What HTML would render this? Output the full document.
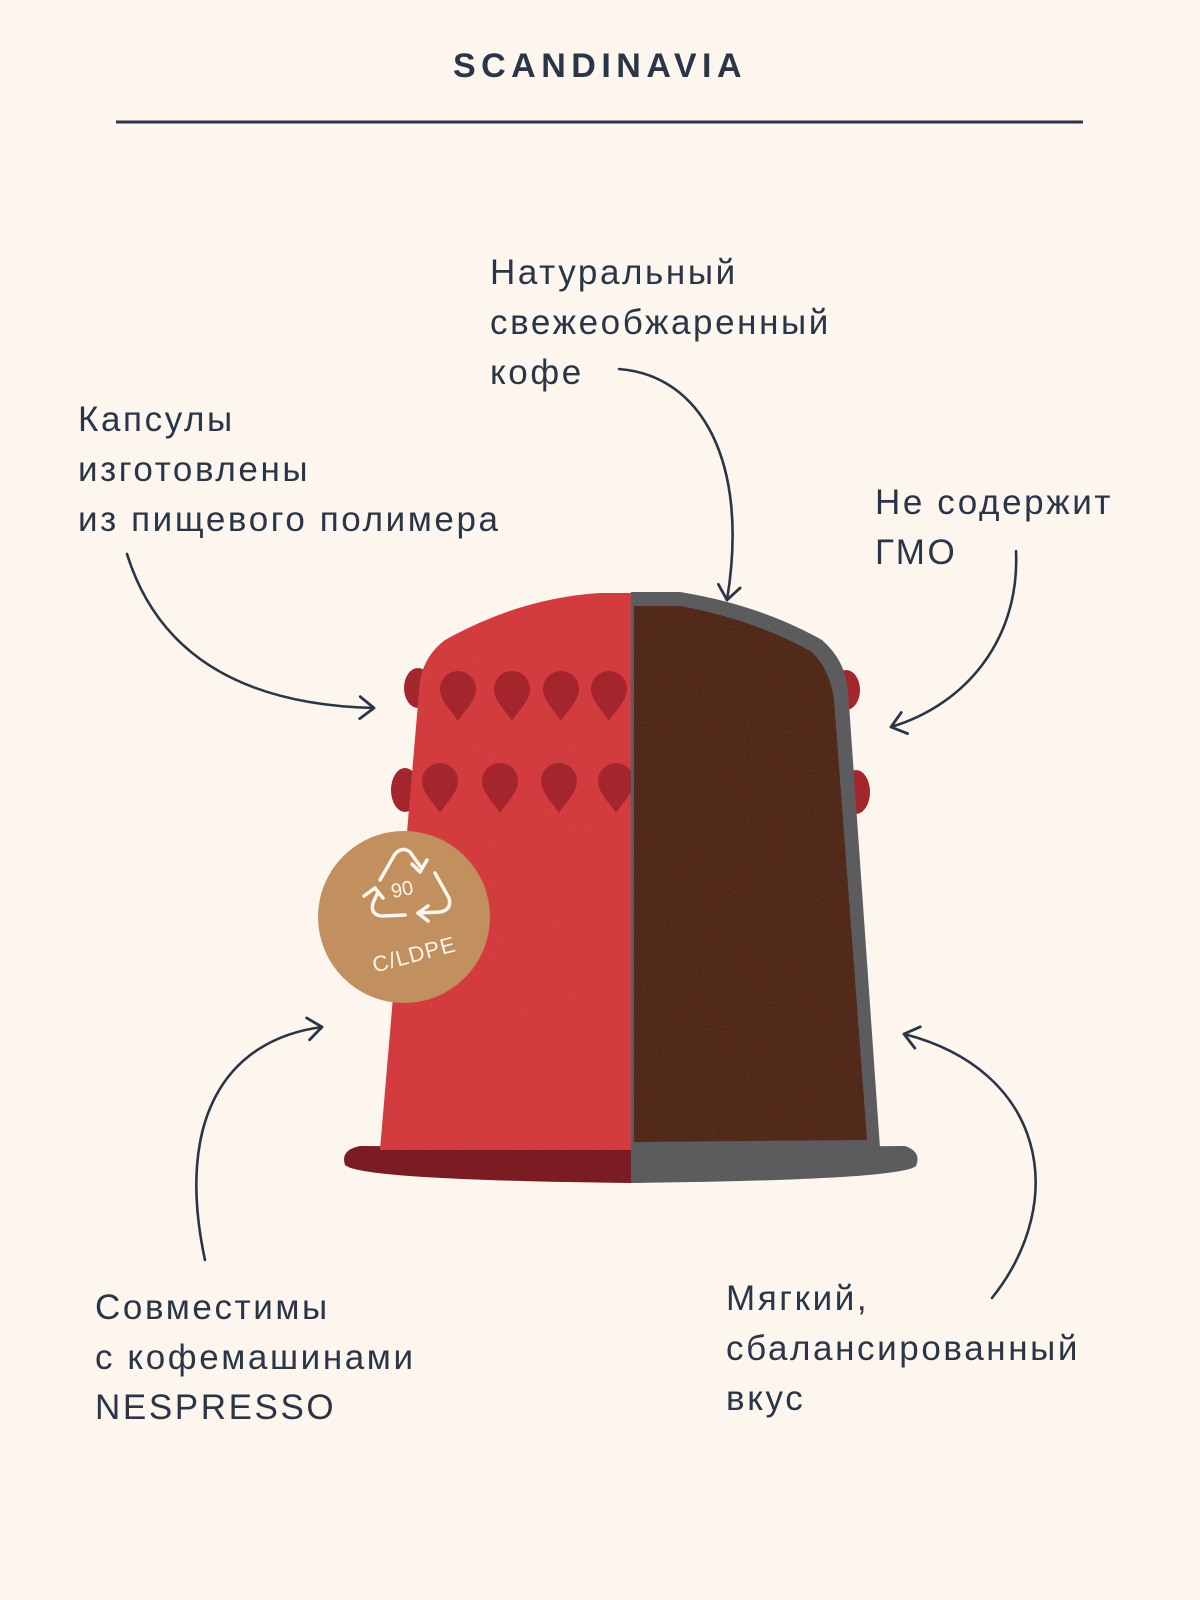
<!DOCTYPE html>
<html><head><meta charset="utf-8"><style>
body{margin:0;width:1200px;height:1600px;background:#fcf6ef;overflow:hidden;font-family:"Liberation Sans","DejaVu Sans",sans-serif}
svg{position:absolute;left:0;top:0}
</style></head><body>
<svg width="1200" height="1600" viewBox="0 0 1200 1600">
<defs>
<marker id="ah" markerWidth="30" markerHeight="30" refX="20" refY="15" orient="auto" markerUnits="userSpaceOnUse">
<path d="M6,4 L20,15 L6,26" fill="none" stroke="#2a3547" stroke-width="2.8" stroke-linecap="round" stroke-linejoin="round"/>
</marker>
<filter id="noise"><feTurbulence type="fractalNoise" baseFrequency="0.9" numOctaves="2" seed="3"/><feColorMatrix values="0 0 0 0 0.2  0 0 0 0 0.1  0 0 0 0 0.05  0 0 0 1.2 -0.5"/><feComposite in2="SourceGraphic" operator="in"/></filter>
<path id="drop" d="M0,28 C-6,18 -18,8 -18,-4 A18,18 0 0 1 18,-4 C18,8 6,18 0,28Z"/>
</defs>
<text x="600" y="77" text-anchor="middle" font-size="34" font-weight="bold" letter-spacing="5.5" fill="#2a3547">SCANDINAVIA</text>
<line x1="116" y1="122" x2="1083" y2="122" stroke="#2a3547" stroke-width="3"/>
<g font-size="35" fill="#2a3547" letter-spacing="2.6">
<text x="490" y="284">Натуральный</text><text x="490" y="334">свежеобжаренный</text><text x="490" y="384">кофе</text>
<text x="78" y="431">Капсулы</text><text x="78" y="481">изготовлены</text><text x="78" y="531">из пищевого полимера</text>
<text x="875" y="514">Не содержит</text><text x="875" y="564">ГМО</text>
<text x="95" y="1319">Совместимы</text><text x="95" y="1369">с кофемашинами</text><text x="95" y="1419">NESPRESSO</text>
<text x="726" y="1310">Мягкий,</text><text x="726" y="1360">сбалансированный</text><text x="726" y="1410">вкус</text>
</g>
<g fill="#a3262c">
<ellipse cx="418" cy="688" rx="14" ry="20"/><ellipse cx="405" cy="790" rx="14" ry="22"/>
<ellipse cx="846" cy="690" rx="14" ry="20"/><ellipse cx="856" cy="792" rx="14" ry="22"/>
</g>
<path d="M631,1148 L360,1146 Q340,1150 345,1165 Q360,1180 631,1183Z" fill="#7a1c22"/>
<path d="M631,1148 L905,1146 Q922,1152 916,1166 Q900,1180 631,1183Z" fill="#5c5b5e"/>
<path d="M631,593 L600,593 Q520,598 445,640 Q425,655 420,680 L380,1150 L631,1150Z" fill="#d83a3f"/>
<path d="M631,593 L600,593 Q520,598 445,640 Q425,655 420,680 L380,1150 L631,1150Z" fill="#d83a3f" filter="url(#noise)" opacity="0.5"/>
<g fill="#a4262c">
<use href="#drop" x="458" y="693"/><use href="#drop" x="512" y="693"/><use href="#drop" x="561" y="693"/><use href="#drop" x="609" y="693"/>
<use href="#drop" x="440" y="785"/><use href="#drop" x="500" y="785"/><use href="#drop" x="559" y="785"/><use href="#drop" x="616" y="785"/>
</g>
<path d="M631,592 L680,592 Q760,605 822,640 Q845,660 848,690 L880,1148 L631,1150Z" fill="#5c5b5e"/>
<path d="M634,606 L680,606 Q755,620 812,652 Q830,670 834,700 L867,1140 L634,1142Z" fill="#4e2517"/>
<path d="M634,606 L680,606 Q755,620 812,652 Q830,670 834,700 L867,1140 L634,1142Z" fill="#2e1409" filter="url(#noise)" opacity="0.8"/>
<circle cx="404" cy="917" r="86" fill="#c28f5e"/>
<g fill="none" stroke="#fcf6ef" stroke-width="3.5" stroke-linecap="round" stroke-linejoin="round">
<path d="M380,880 L395,854 Q402,846 410,852 L420,866"/><path d="M412,864 L420,872 L427,860"/>
<path d="M435,873 L449,898 Q452,910 440,912 L418,913"/><path d="M428,906 L418,913 L428,921"/>
<path d="M405,915 L382,916 Q370,915 373,903 L378,892"/><path d="M364,896 L375,888 L383,898"/>
</g>
<text x="402" y="896" font-size="20" fill="#fcf6ef" text-anchor="middle" transform="rotate(-12 402 889)">90</text>
<text x="414" y="962" font-size="22" fill="#fcf6ef" text-anchor="middle" letter-spacing="1" transform="rotate(-15 414 954)">C/LDPE</text>
<g fill="none" stroke="#2a3547" stroke-width="2.6" stroke-linecap="round" marker-end="url(#ah)">
<path d="M619,369 C700,375 750,460 727,600"/>
<path d="M127,554 C160,660 250,705 374,708"/>
<path d="M1016,551 C1020,640 965,705 891,727"/>
<path d="M205,1260 C175,1120 225,1040 322,1027"/>
<path d="M992,1298 C1070,1200 1045,1070 904,1034"/>
</g>
</svg>
</body></html>
